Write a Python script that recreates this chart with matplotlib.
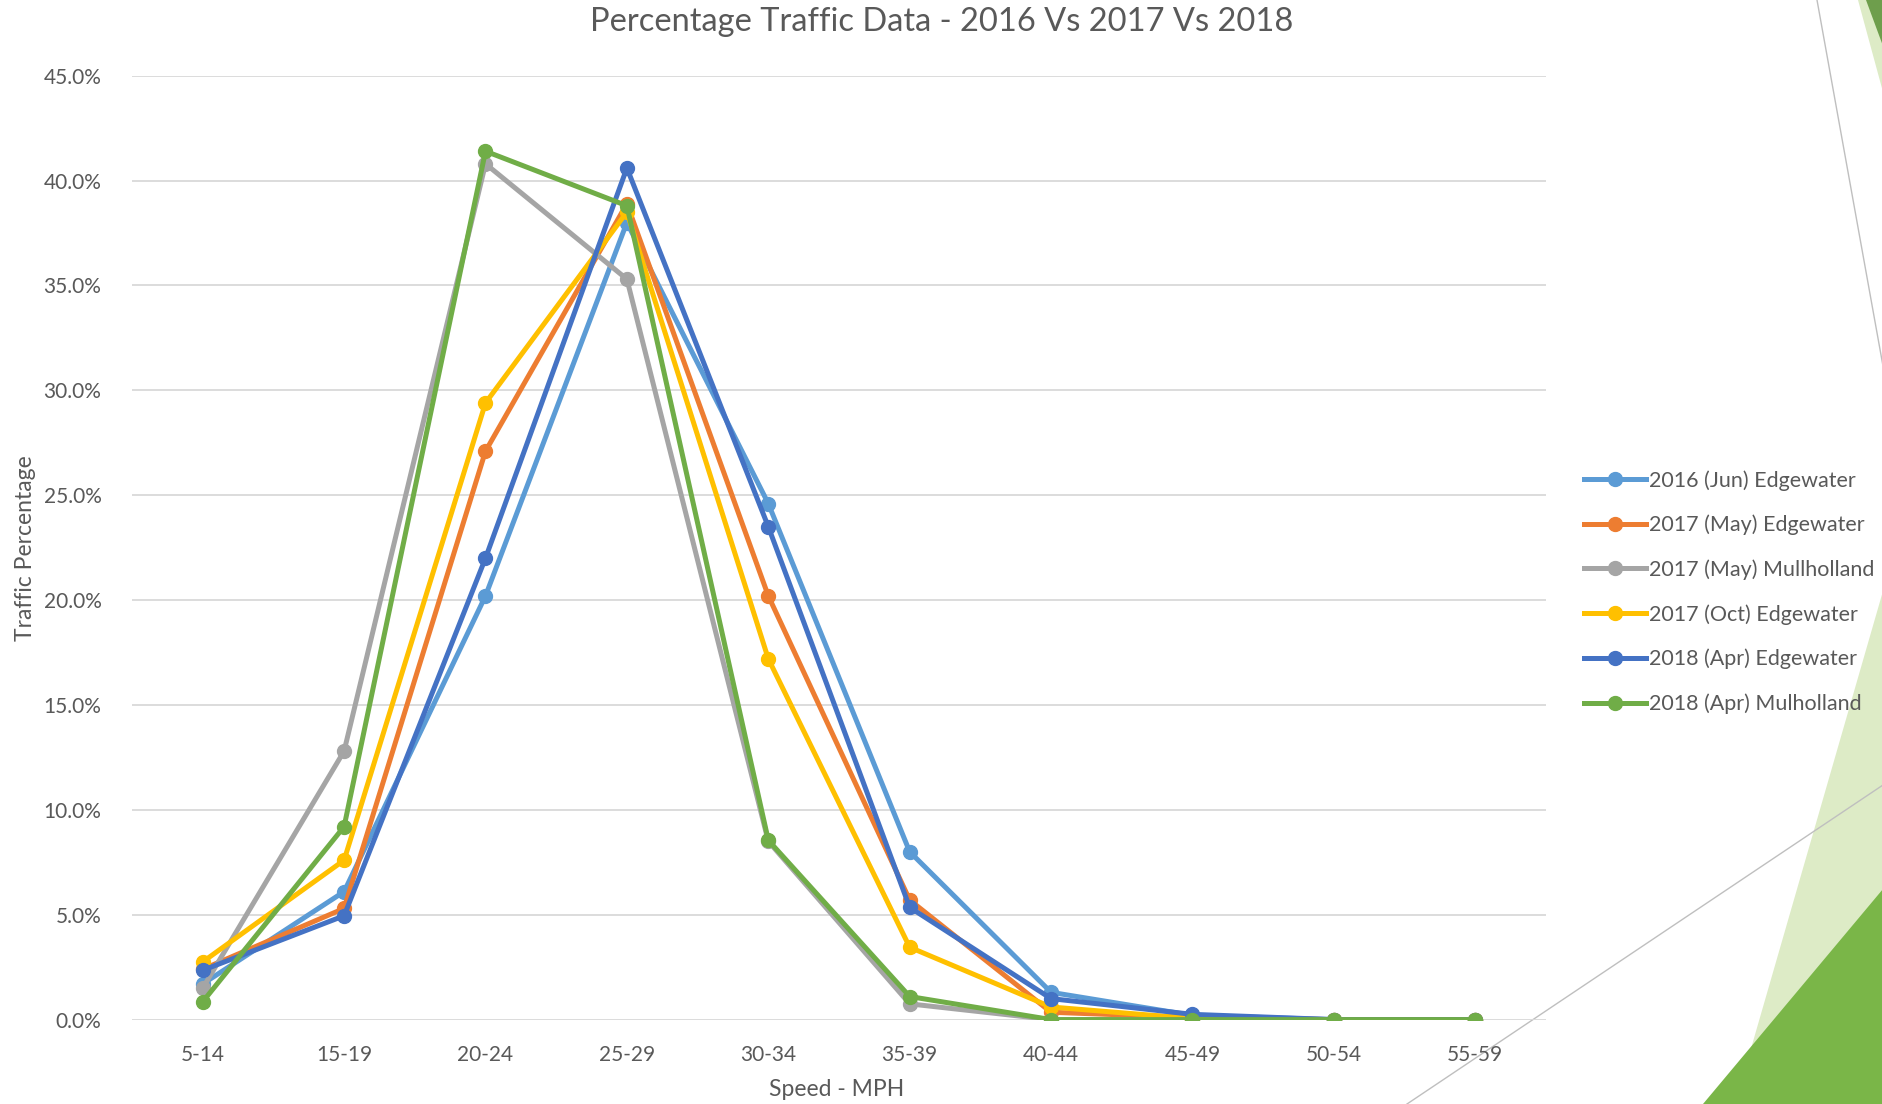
import matplotlib
matplotlib.use("Agg")
import matplotlib.pyplot as plt
from matplotlib.patches import Polygon
from matplotlib.lines import Line2D
from matplotlib.ticker import FuncFormatter

plt.rcParams['font.family'] = ['Lato', 'DejaVu Sans']

# speed bins
categories = ["5-14", "15-19", "20-24", "25-29", "30-34", "35-39",
              "40-44", "45-49", "50-54", "55-59"]

# traffic share in percent
jun16_edge = [1.7, 6.1, 20.2, 38.0, 24.6, 8.0, 1.3, 0.2, 0.0, 0.0]
may17_edge = [2.4, 5.3, 27.1, 38.9, 20.2, 5.7, 0.35, 0.1, 0.0, 0.0]
may17_mull = [1.5, 12.8, 40.8, 35.3, 8.5, 0.75, 0.0, 0.0, 0.0, 0.0]
oct17_edge = [2.75, 7.6, 29.4, 38.5, 17.2, 3.45, 0.6, 0.05, 0.0, 0.0]
apr18_edge = [2.35, 4.95, 22.0, 40.6, 23.5, 5.35, 1.0, 0.25, 0.0, 0.0]
apr18_mull = [0.85, 9.2, 41.4, 38.8, 8.55, 1.1, 0.0, 0.0, 0.0, 0.0]

series_names = ["2016 (Jun) Edgewater", "2017 (May) Edgewater",
                "2017 (May) Mullholland", "2017 (Oct) Edgewater",
                "2018 (Apr) Edgewater", "2018 (Apr) Mulholland"]
series_vals = [jun16_edge, may17_edge, may17_mull, oct17_edge, apr18_edge, apr18_mull]
colors = ["#5B9BD5", "#ED7D31", "#A5A5A5", "#FFC000", "#4472C4", "#70AD47"]

W, H = 1883, 1104
fig = plt.figure(figsize=(W / 100, H / 100), dpi=100)
txt = "#595959"

# slide decoration on the right (figure pixel coords), kept behind the chart
def px(pts):
    return [(x / W, 1 - y / H) for x, y in pts]

deco = [
    ([(1883, 591), (1735, 1104), (1883, 1104)], "#DDEBC6"),
    ([(1883, 889), (1703, 1104), (1883, 1104)], "#7AB648"),
    ([(1858, 0), (1883, 0), (1883, 92)], "#DDEBC6"),
    ([(1866, 0), (1883, 0), (1883, 46)], "#6E9E4C"),
]
for pts, fc in deco:
    fig.patches.append(Polygon(px(pts), closed=True, transform=fig.transFigure,
                               facecolor=fc, edgecolor="none", zorder=-2))
for (x0, y0), (x1, y1) in [((1817, 0), (1883, 366)), ((1407, 1104), (1883, 785))]:
    fig.lines.append(Line2D([x0 / W, x1 / W], [1 - y0 / H, 1 - y1 / H],
                            transform=fig.transFigure, color="#BFBFBF",
                            lw=1.0, zorder=-1))

ax = fig.add_axes([132 / W, 1 - 1019.6 / H, (1546 - 132) / W, (1019.6 - 75.7) / H])
ax.set_facecolor("none")

x = list(range(len(categories)))
for name, vals, c in zip(series_names, series_vals, colors):
    ax.plot(x, vals, color=c, lw=3.6, marker="o", markersize=10,
            label=name, solid_joinstyle="round")

ax.set_xlim(-0.5, len(categories) - 0.5)
ax.set_ylim(0, 45)
ax.set_yticks(range(0, 46, 5))
ax.yaxis.set_major_formatter(FuncFormatter(lambda v, p: f"{v:.1f}%"))
ax.set_xticks(x)
ax.set_xticklabels(categories)
ax.grid(axis="y", color="#D9D9D9", lw=1.3)
ax.set_axisbelow(True)
for s in ax.spines.values():
    s.set_visible(False)
ax.tick_params(length=0, labelsize=15, colors=txt)
ax.tick_params(axis="y", pad=22)
ax.tick_params(axis="x", pad=18)

fig.text(0.5, 1 - 22 / H, "Percentage Traffic Data - 2016 Vs 2017 Vs 2018",
         ha="center", va="center", fontsize=23.5, color=txt)
fig.text(26 / W, 1 - 548 / H, "Traffic Percentage", rotation=90,
         ha="center", va="center", fontsize=16.5, color=txt)
fig.text(837 / W, 1 - 1089 / H, "Speed - MPH",
         ha="center", va="center", fontsize=16.5, color=txt)

leg = ax.legend(loc="center left", bbox_to_anchor=(1575 / W, 1 - 592 / H),
                bbox_transform=fig.transFigure, frameon=False,
                fontsize=15.5, labelcolor=txt, handlelength=2.9,
                handletextpad=0.15, labelspacing=1.12, borderaxespad=0)

fig.savefig("out.png", dpi=100)
